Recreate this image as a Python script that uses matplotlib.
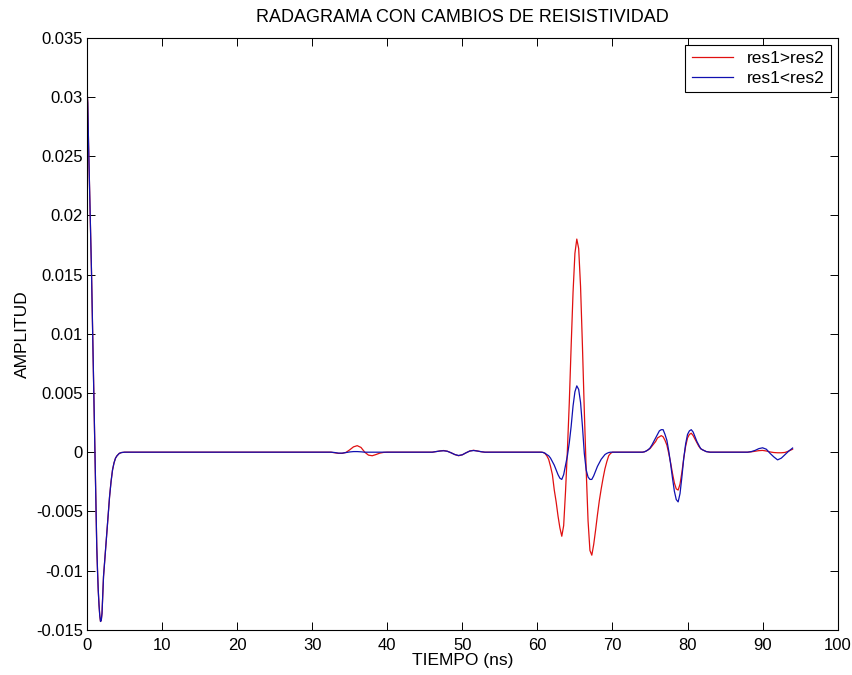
import matplotlib
matplotlib.use('Agg')
import matplotlib.pyplot as plt

plt.rcParams['font.family'] = ['Liberation Sans', 'DejaVu Sans']

# time axis (ns), shared by both traces
tiempo = [0, 0.1, 0.2, 0.3, 0.4, 0.5, 0.6, 0.7, 0.8, 0.9, 1.0, 1.1, 1.2, 1.3, 1.4,
          1.5, 1.6, 1.7, 1.8, 1.9, 2.0, 2.2, 2.4, 2.6, 2.8, 3.0, 3.2, 3.4, 3.6, 3.8,
          4.0, 4.3, 4.6, 5.0, 10, 20, 32.5,
          33, 33.5, 34, 34.5, 35, 35.5, 36, 36.5, 37, 37.5, 38, 38.5, 39, 39.5, 40,
          45, 46, 46.5, 47, 47.5, 48, 48.5, 49, 49.5, 50, 50.5, 51, 51.5, 52, 52.5, 53,
          54, 60, 60.5,
          60.75, 61, 61.25, 61.5, 61.75, 62, 62.25, 62.5, 62.75, 63, 63.25, 63.5, 63.75,
          64, 64.25, 64.5, 64.75, 65, 65.25, 65.5, 65.75, 66, 66.25, 66.5, 66.75, 67,
          67.25, 67.5, 67.75, 68, 68.25, 68.5, 68.75, 69, 69.25, 69.5, 69.75, 70,
          72, 74,
          74.25, 74.5, 74.75, 75, 75.25, 75.5, 75.75, 76, 76.25, 76.5, 76.75, 77, 77.25,
          77.5, 77.75, 78, 78.25, 78.5, 78.75, 79, 79.25, 79.5, 79.75, 80, 80.25, 80.5,
          80.75, 81, 81.25, 81.5, 81.75, 82, 82.5, 83,
          85, 88, 88.5, 89, 89.5, 90, 90.5, 91, 91.5, 92, 92.5, 93, 93.5, 94]

# direct pulse (same for both cases)
pulso = [0.0307, 0.0295, 0.0262, 0.0235, 0.0210, 0.0182, 0.0152, 0.0120, 0.0088, 0.0052,
         0.0018, -0.0020, -0.0052, -0.0080, -0.0100, -0.0117, -0.0129, -0.0138, -0.0143,
         -0.0142, -0.0136, -0.0105, -0.0088, -0.0071, -0.0054, -0.0038, -0.0025, -0.0015,
         -0.0009, -0.0005, -0.0003, -0.0001, -0.00003, 0, 0, 0, 0]

# res1 > res2
res_mayor = pulso + [
    -0.00005, -0.0001, -0.0001, -0.00002, 0.0002, 0.00045, 0.00055, 0.0004, 0.0,
    -0.00025, -0.0003, -0.0002, -0.00008, -0.00002, 0,
    0, 0, 0.00005, 0.0001, 0.00014, 0.00008, -0.00005, -0.0002, -0.0003, -0.00022,
    -0.00005, 0.0001, 0.00016, 0.0001, 0.00004, 0,
    0, 0, 0,
    -0.00002, -0.0001, -0.0003, -0.0006, -0.0012, -0.0019, -0.0032, -0.0042, -0.0054,
    -0.0064, -0.0071, -0.0062, -0.0033, 0.0002, 0.0042, 0.0090, 0.0135, 0.0168, 0.0180,
    0.0172, 0.0140, 0.0090, 0.0035, -0.0015, -0.0058, -0.0083, -0.0087, -0.0078,
    -0.0066, -0.0053, -0.0041, -0.0031, -0.0022, -0.0014, -0.0008, -0.0003, -0.0001, 0,
    0, 0,
    0.00003, 0.0001, 0.0002, 0.0003, 0.0005, 0.0007, 0.0009, 0.0012, 0.0013, 0.0014,
    0.0013, 0.0010, 0.0006, -0.0001, -0.0009, -0.0018, -0.0026, -0.0031, -0.0032,
    -0.0027, -0.0017, -0.0005, 0.0005, 0.0012, 0.0015, 0.0016, 0.0014, 0.0011, 0.0008,
    0.0005, 0.0003, 0.0002, 0.00005, 0,
    0, 0, 0.00003, 0.00008, 0.00013, 0.00015, 0.0001, 0.00002, -0.00003, -0.00005,
    -0.00005, -0.00002, 0.0001, 0.00025]

# res1 < res2
res_menor = pulso + [
    -0.00003, -0.00008, -0.00008, -0.00003, 0.00002, 0.00005, 0.00005, 0.00003, 0,
    0, 0, 0, 0, 0, 0,
    0, 0, 0.00005, 0.0001, 0.00012, 0.00008, -0.00005, -0.0002, -0.00028, -0.00022,
    -0.00005, 0.0001, 0.00014, 0.0001, 0.00004, 0,
    0, 0, 0,
    -0.00002, -0.00008, -0.0002, -0.0003, -0.0005, -0.0008, -0.0011, -0.0015, -0.0019,
    -0.0022, -0.0023, -0.0019, -0.0011, -0.0003, 0.0008, 0.0022, 0.0039, 0.0051, 0.0056,
    0.0053, 0.0042, 0.0022, -0.0001, -0.0015, -0.0021, -0.0023, -0.0023, -0.0020,
    -0.0016, -0.0012, -0.0009, -0.0006, -0.0004, -0.0002, -0.0001, -0.00003, 0, 0,
    0, 0,
    0.00003, 0.0001, 0.0002, 0.00035, 0.0006, 0.0009, 0.0012, 0.0015, 0.0018, 0.0019,
    0.0019, 0.0015, 0.0010, 0.0001, -0.0010, -0.0022, -0.0033, -0.0040, -0.0042,
    -0.0035, -0.0021, -0.0005, 0.0007, 0.0015, 0.0018, 0.0019, 0.0017, 0.0013, 0.0009,
    0.0006, 0.0003, 0.0002, 0.00005, 0,
    0, 0, 0.00005, 0.00015, 0.0003, 0.00037, 0.00025, -0.0001, -0.0004, -0.00065,
    -0.0005, -0.0002, 0.0001, 0.00035]

xticks = [0, 10, 20, 30, 40, 50, 60, 70, 80, 90, 100]
yticks = [-0.015, -0.01, -0.005, 0, 0.005, 0.01, 0.015, 0.02, 0.025, 0.03, 0.035]
ytick_labels = ['-0.015', '-0.01', '-0.005', '0', '0.005', '0.01', '0.015',
                '0.02', '0.025', '0.03', '0.035']

fig = plt.figure(figsize=(8.53, 6.75), dpi=100)
ax = fig.add_axes([0.102, 0.067, 0.880, 0.877])

ax.plot(tiempo, res_mayor, color='#e01010', lw=0.9, label='res1>res2')
ax.plot(tiempo, res_menor, color='#1010b0', lw=0.9, label='res1<res2')

ax.set_xlim(0, 100)
ax.set_ylim(-0.015, 0.035)
ax.set_xticks(xticks)
ax.set_yticks(yticks)
ax.set_yticklabels(ytick_labels)
ax.tick_params(direction='in', top=True, right=True, length=5.5, width=0.7,
               labelsize=12, pad=3)
ax.tick_params(axis='x', pad=6)
for s in ax.spines.values():
    s.set_linewidth(0.8)

ax.set_title('RADAGRAMA CON CAMBIOS DE REISISTIVIDAD', fontsize=13, pad=11.5)
ax.set_xlabel('TIEMPO (ns)', fontsize=12.5, labelpad=0)
ax.set_ylabel('AMPLITUD', fontsize=12.5, labelpad=4)

leg = ax.legend(loc='upper right', bbox_to_anchor=(0.991, 0.988), borderaxespad=0,
                fancybox=False, framealpha=1, edgecolor='black', fontsize=12.5,
                handlelength=2.4, borderpad=0.35, labelspacing=0.25)
leg.get_frame().set_linewidth(0.8)

fig.savefig('out.png', dpi=100, facecolor='white')
